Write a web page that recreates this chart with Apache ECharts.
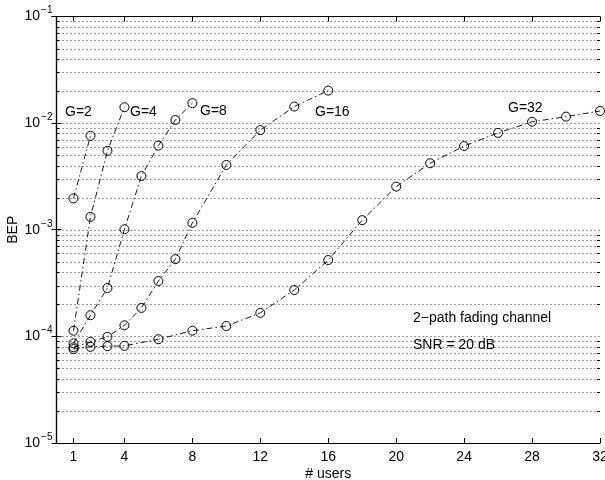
<!DOCTYPE html>
<html><head><meta charset="utf-8">
<script src="https://cdn.jsdelivr.net/npm/echarts@6/dist/echarts.min.js"></script>
<style>html,body{margin:0;padding:0;background:#fff}#c{width:605px;height:480px}</style>
</head><body><div id="c"></div>
<script>
// ---- data ----
const xTickValues = [1, 4, 8, 12, 16, 20, 24, 28, 32];
const usersG2 = [1, 2];
const bepG2 = [1.97e-3, 7.6e-3];
const usersG4 = [1, 2, 3, 4];
const bepG4 = [1.13e-4, 1.32e-3, 5.5e-3, 1.41e-2];
const usersG8 = [1, 2, 3, 4, 5, 6, 7, 8];
const bepG8 = [8.6e-5, 1.58e-4, 2.84e-4, 1.01e-3, 3.19e-3, 6.15e-3, 1.07e-2, 1.54e-2];
const usersG16 = [1, 2, 3, 4, 5, 6, 7, 8, 10, 12, 14, 16];
const bepG16 = [7.9e-5, 8.9e-5, 9.9e-5, 1.27e-4, 1.85e-4, 3.3e-4, 5.3e-4, 1.16e-3, 4.05e-3, 8.6e-3, 1.43e-2, 2.02e-2];
const usersG32 = [1, 2, 3, 4, 6, 8, 10, 12, 14, 16, 18, 20, 22, 24, 26, 28, 30, 32];
const bepG32 = [7.6e-5, 7.97e-5, 8.1e-5, 8.15e-5, 9.4e-5, 1.13e-4, 1.25e-4, 1.66e-4, 2.72e-4, 5.2e-4, 1.23e-3, 2.54e-3, 4.2e-3, 6.1e-3, 8.1e-3, 1.03e-2, 1.15e-2, 1.30e-2];
const curveNames = ['G=2', 'G=4', 'G=8', 'G=16', 'G=32'];
const noteLines = ['2\u2212path fading channel', 'SNR = 20 dB'];

// grid line values (decades and 2..9 multiples)
const gridValues = [];
for (let e = -5; e <= -2; e++) {
  for (let m = 1; m <= 9; m++) {
    if (e === -5 && m === 1) continue;
    gridValues.push(+(m * Math.pow(10, e)).toPrecision(3));
  }
}

const FONT = "'Liberation Sans', Arial, Helvetica, sans-serif";
const chart = echarts.init(document.getElementById('c'), null, {renderer: 'canvas'});

function mkSeries(name, xs, ys) {
  return {
    name: name, type: 'line', xAxisIndex: 0, yAxisIndex: 0,
    data: xs.map((x, i) => [x, ys[i]]),
    symbol: 'circle', symbolSize: 9,
    itemStyle: {color: 'rgba(0,0,0,0)', borderColor: '#000', borderWidth: 1},
    lineStyle: {color: '#000', width: 0.9, type: [6, 3, 1.5, 3]},
    emphasis: {disabled: true}, silent: true, animation: false, z: 5
  };
}

const axisLineStyle = {show: true, lineStyle: {color: '#000', width: 1.2}};
const labelStyle = {color: '#000', fontFamily: FONT, fontSize: 14};

const option = {
  backgroundColor: '#fff',
  animation: false,
  grid: {left: 56.5, right: 5, top: 16.5, bottom: 37, containLabel: false, outerBoundsMode: 'none'},
  xAxis: [{
    type: 'value', min: 0, max: 32, position: 'bottom',
    axisLine: axisLineStyle,
    axisTick: {show: true, inside: true, length: 5, customValues: xTickValues, lineStyle: {color: '#000'}},
    axisLabel: Object.assign({show: true, margin: 7, customValues: xTickValues}, labelStyle),
    splitLine: {show: false},
    name: '# users', nameLocation: 'middle', nameGap: 24, nameMoveOverlap: false,
    nameTextStyle: {color: '#000', fontFamily: FONT, fontSize: 14}
  }, {
    type: 'value', min: 0, max: 32, position: 'top',
    axisLine: axisLineStyle,
    axisTick: {show: true, inside: true, length: 5, customValues: xTickValues, lineStyle: {color: '#000'}},
    axisLabel: {show: false}, splitLine: {show: false}
  }],
  yAxis: [{
    type: 'log', logBase: 10, min: 1e-5, max: 1e-1, position: 'left',
    axisLine: axisLineStyle,
    axisTick: {show: true, inside: true, length: 5, lineStyle: {color: '#000'}},
    axisLabel: {
      show: true, margin: 4, color: '#000', fontFamily: FONT,
      formatter: function (v) {
        const e = Math.round(Math.log10(v));
        return '{b|10}{s|' + (e < 0 ? '\u2212' + (-e) : e) + '}';
      },
      rich: {
        b: {fontSize: 14, fontFamily: FONT, color: '#000'},
        s: {fontSize: 10, fontFamily: FONT, color: '#000', padding: [0, 0, 12, 1]}
      }
    },
    splitLine: {show: false},
    name: 'BEP', nameLocation: 'middle', nameGap: 36, nameMoveOverlap: false,
    nameTextStyle: {color: '#000', fontFamily: FONT, fontSize: 14}
  }, {
    type: 'log', logBase: 10, min: 1e-5, max: 1e-1, position: 'right',
    axisLine: axisLineStyle,
    axisTick: {show: true, inside: true, length: 5, lineStyle: {color: '#000'}},
    axisLabel: {show: false}, splitLine: {show: false}
  }],
  series: [
    {
      type: 'custom', xAxisIndex: 0, yAxisIndex: 0, silent: true, z: 1, clip: false,
      data: gridValues.map(v => [0, v]),
      renderItem: function (params, api) {
        const v = api.value(1);
        const p = api.coord([0, v]);
        const cs = params.coordSys;
        const y = Math.round(p[1]) + 0.5;
        const mant = Math.round(v / Math.pow(10, Math.floor(Math.log10(v) + 1e-9)));
        const children = [{
          type: 'line',
          shape: {x1: cs.x + 2, y1: y, x2: cs.x + cs.width, y2: y},
          style: {stroke: '#333', lineWidth: 1, lineDash: [1, 3]}
        }];
        if (mant !== 1) {
          children.push({type: 'line', shape: {x1: cs.x, y1: y, x2: cs.x + 3, y2: y}, style: {stroke: '#000', lineWidth: 1}});
          children.push({type: 'line', shape: {x1: cs.x + cs.width - 3, y1: y, x2: cs.x + cs.width, y2: y}, style: {stroke: '#000', lineWidth: 1}});
        }
        return {type: 'group', children: children};
      }
    },
    mkSeries(curveNames[0], usersG2, bepG2),
    mkSeries(curveNames[1], usersG4, bepG4),
    mkSeries(curveNames[2], usersG8, bepG8),
    mkSeries(curveNames[3], usersG16, bepG16),
    mkSeries(curveNames[4], usersG32, bepG32)
  ],
  graphic: [
    {type: 'text', left: 65, top: 105, style: {text: curveNames[0], font: '14px ' + FONT, fill: '#000'}},
    {type: 'text', left: 130, top: 105, style: {text: curveNames[1], font: '14px ' + FONT, fill: '#000'}},
    {type: 'text', left: 200, top: 104, style: {text: curveNames[2], font: '14px ' + FONT, fill: '#000'}},
    {type: 'text', left: 315, top: 105, style: {text: curveNames[3], font: '14px ' + FONT, fill: '#000'}},
    {type: 'text', left: 508, top: 101, style: {text: curveNames[4], font: '14px ' + FONT, fill: '#000'}},
    {type: 'text', left: 413, top: 311, style: {text: noteLines[0], font: '14px ' + FONT, fill: '#000'}},
    {type: 'text', left: 413, top: 338, style: {text: noteLines[1], font: '14px ' + FONT, fill: '#000'}}
  ]
};
chart.setOption(option);
</script>
</body></html>
